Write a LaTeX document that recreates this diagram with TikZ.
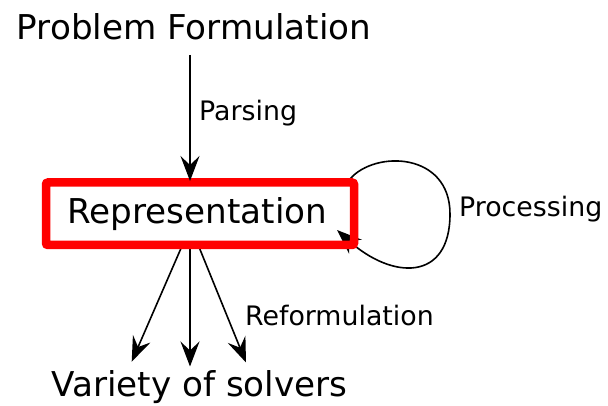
\documentclass[tikz,border=0pt]{standalone}
\usepackage{fontspec}
\setmainfont{DejaVu Sans}
\usetikzlibrary{arrows.meta}
\begin{document}
\begin{tikzpicture}[x=1pt,y=-1pt,
  bigtext/.style={font=\fontsize{34.2}{40}\selectfont, inner sep=0pt},
  smalltext/.style={font=\fontsize{26.8}{32}\selectfont, inner sep=0pt, anchor=base west},
  arr/.style={line width=1.6pt, -{Stealth[length=25pt,width=19pt,inset=9pt]}},
  redbox/.style={draw=red, line width=8.5pt, rounded corners=2pt,
    minimum width=308pt, minimum height=62.5pt}]
  \useasboundingbox (0,0) rectangle (608,406);

  % text nodes
  \node[bigtext, anchor=base] (pf) at (194,39.5) {Problem Formulation};
  \node[bigtext, anchor=base] (vs) at (199.5,396.7) {Variety of solvers};

  % fan of arrows towards the solvers (drawn under the box)
  \coordinate (s1) at (181.7,246.7);
  \coordinate (s2) at (190,247);
  \coordinate (s3) at (199,247);
  \coordinate (e1) at (131.7,361.7);
  \coordinate (e2) at (190,366.5);
  \coordinate (e3) at (246,362.5);
  \draw[arr] (s1) -- (e1);
  \draw[arr] (s2) -- (e2);
  \draw[arr] (s3) -- (e3);

  % processing loop (its head tucks under the box)
  \coordinate (lstart) at (350,179);
  \coordinate (lright) at (450,214);
  \coordinate (lend) at (337,230);
  \draw[arr] (lstart) .. controls (375,150) and (450,152) .. (lright)
                      .. controls (450,282) and (392,280) .. (lend);

  % central representation box
  \node[redbox, bigtext] (rep) at (200,213.75) {\hspace*{-5pt}Representation};

  % parsing arrow
  \coordinate (pstart) at (190,55);
  \coordinate (pend) at (190,181);
  \draw[arr] (pstart) -- (pend);

  % edge labels
  \node[smalltext] (lparse) at (199,120.7) {Parsing};
  \node[smalltext] (lproc) at (459,216.7) {Processing};
  \node[smalltext] (lreform) at (245,325) {Reformulation};
\end{tikzpicture}
\end{document}
